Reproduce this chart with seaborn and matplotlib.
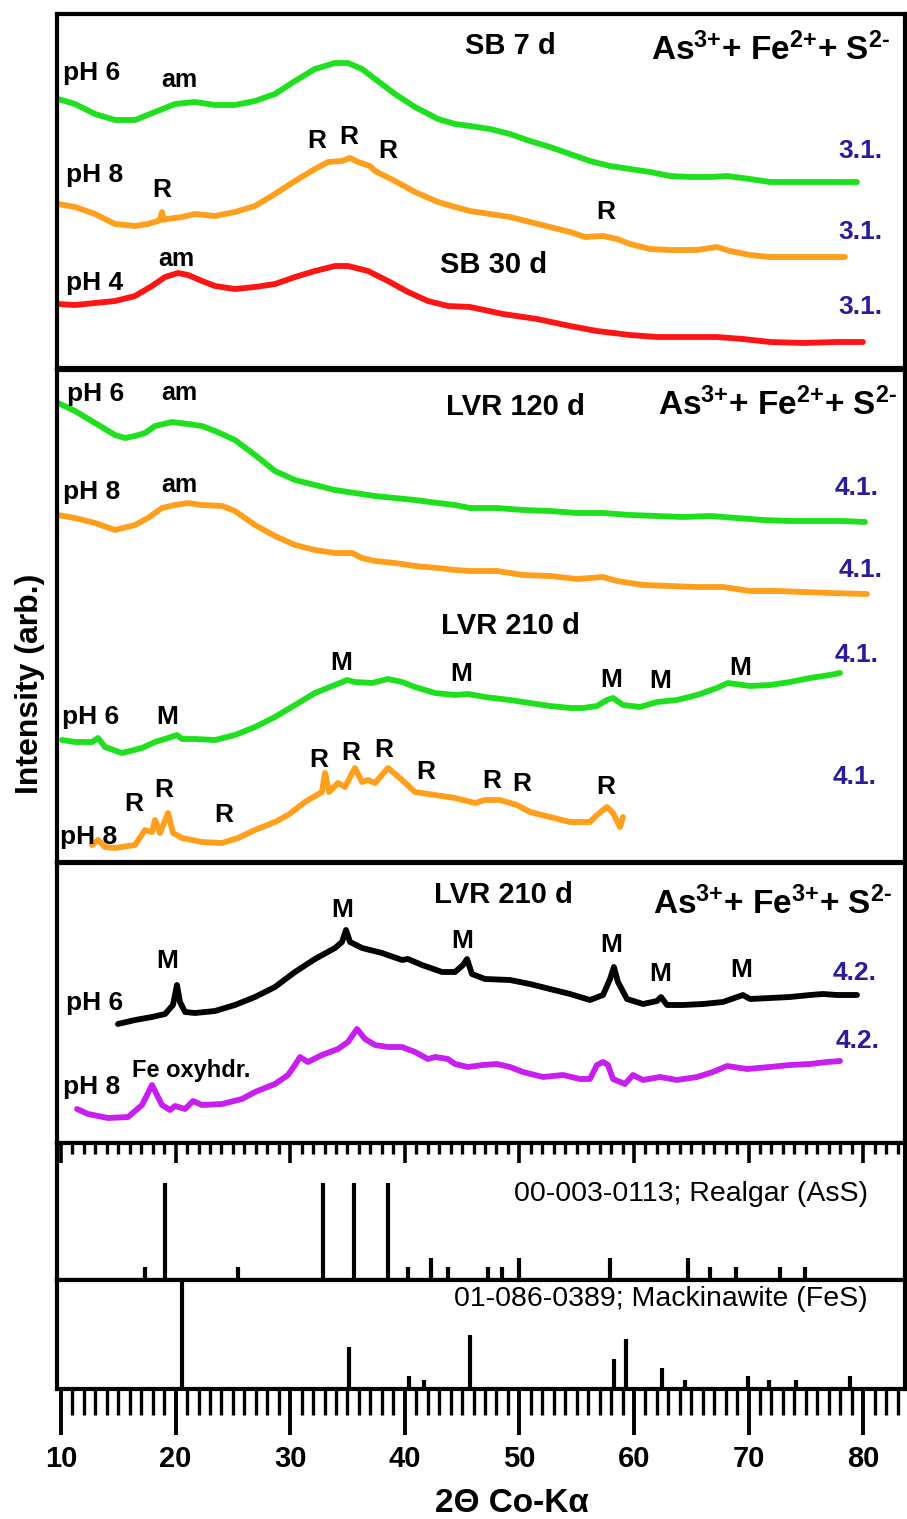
import matplotlib
matplotlib.use("Agg")
import matplotlib.pyplot as plt
from matplotlib.ticker import MultipleLocator
import seaborn as sns

# ---------------- XRD patterns (2-theta, Co K-alpha / intensity, arb.) ----------------
# SB series, As3+ + Fe2+ + S2-
sb7_ph6_2t = [9.74, 11.22, 12.97, 14.71, 16.46, 18.20, 19.95, 21.69, 23.44, 25.18, 26.93, 28.67,
              30.42, 32.16, 33.91, 35.04, 36.27, 37.40, 39.14, 40.89, 42.90, 44.38, 45.69, 47.43,
              49.18, 50.92, 52.67, 54.42, 56.16, 57.91, 59.65, 61.40, 63.14, 64.89, 66.63, 68.12,
              70.12, 71.87, 73.61, 75.36, 77.71, 79.46]
sb7_ph6_i = [269, 264, 254, 248, 248, 256, 264, 266, 263, 263, 267, 274,
             287, 299, 305, 305, 299, 289, 274, 261, 249, 244, 242, 239,
             234, 227, 221, 214, 207, 202, 199, 196, 192, 191, 191, 192,
             189, 186, 186, 186, 186, 186]

sb7_ph8_2t = [9.74, 11.22, 12.97, 14.71, 16.46, 17.59, 18.46, 18.64, 18.81, 18.99, 19.25, 20.56,
              21.69, 23.44, 25.18, 26.93, 28.67, 30.42, 32.16, 33.30, 34.52, 35.22, 35.92, 36.96,
              37.40, 39.14, 40.89, 42.90, 44.38, 45.69, 47.43, 49.18, 50.92, 52.67, 54.42, 55.72,
              57.30, 58.52, 59.65, 61.40, 63.14, 65.50, 67.24, 68.38, 70.12, 71.87, 73.61, 75.36,
              78.41]
sb7_ph8_i = [164, 161, 154, 144, 142, 144, 147, 148, 156, 148, 149, 151,
             154, 152, 156, 162, 174, 187, 199, 206, 207, 210, 206, 202,
             197, 187, 176, 166, 161, 157, 154, 151, 146, 141, 136, 131,
             132, 129, 124, 119, 118, 118, 121, 117, 113, 111, 111, 111,
             111]

sb30_ph4_2t = [9.74, 11.22, 12.97, 14.71, 16.46, 17.94, 19.08, 20.21, 21.08, 22.30, 23.44, 25.18,
               26.93, 28.67, 30.42, 32.16, 33.91, 35.04, 36.79, 38.53, 40.28, 42.02, 43.77, 45.69,
               48.57, 51.54, 54.42, 56.77, 59.65, 62.01, 64.89, 67.24, 69.51, 71.87, 74.75, 77.71,
               79.98]
sb30_ph4_i = [64, 63, 65, 67, 72, 82, 91, 95, 93, 87, 82, 79,
              81, 84, 91, 97, 102, 102, 97, 87, 76, 67, 62, 61,
              54, 49, 42, 37, 33, 31, 31, 31, 29, 26, 25, 26,
              26]

# LVR series, As3+ + Fe2+ + S2-
lvr120_ph6_2t = [9.74, 11.22, 12.97, 14.71, 15.58, 16.46, 17.33, 18.20, 19.69, 21.08, 22.30, 23.44,
                 25.18, 26.93, 28.67, 30.42, 32.16, 33.91, 35.65, 37.40, 39.14, 40.89, 42.90, 44.38,
                 45.69, 48.05, 50.31, 52.67, 55.03, 57.30, 59.65, 62.01, 64.28, 66.63, 68.99, 71.26,
                 73.61, 75.97, 78.24, 80.16]
lvr120_ph6_i = [459, 451, 439, 427, 424, 426, 429, 436, 440, 438, 436, 431,
                422, 407, 391, 382, 377, 372, 369, 366, 364, 362, 359, 357,
                354, 354, 352, 351, 349, 349, 347, 346, 345, 346, 344, 342,
                341, 341, 341, 340]

lvr120_ph8_2t = [9.74, 11.22, 12.97, 14.71, 16.46, 17.59, 18.81, 19.95, 21.08, 22.30, 24.05, 25.18,
                 26.93, 28.67, 30.42, 32.16, 33.91, 35.39, 36.27, 37.40, 39.14, 40.89, 42.90, 44.38,
                 45.69, 48.05, 50.31, 52.67, 55.03, 57.30, 58.52, 60.79, 63.14, 65.50, 67.77, 70.12,
                 72.48, 74.75, 77.10, 80.33]
lvr120_ph8_i = [347, 344, 339, 332, 337, 344, 354, 357, 359, 357, 356, 351,
                337, 326, 317, 312, 309, 309, 304, 301, 299, 296, 294, 292,
                291, 291, 287, 286, 283, 285, 281, 277, 276, 275, 275, 271,
                271, 270, 269, 268]

lvr210_ph6_2t = [10.09, 11.22, 12.71, 13.23, 13.84, 15.32, 17.07, 18.20, 19.34, 20.12, 20.56, 21.69,
                 23.44, 25.18, 26.93, 28.67, 30.42, 32.16, 33.91, 34.96, 35.65, 37.14, 38.53, 39.76,
                 40.89, 42.64, 44.38, 45.51, 47.00, 49.18, 50.92, 52.67, 54.42, 55.55, 56.77, 57.64,
                 58.17, 59.04, 60.52, 62.01, 63.75, 65.50, 67.24, 68.20, 70.12, 71.87, 73.61, 75.36,
                 77.10, 77.98]
lvr210_ph6_i = [122, 120, 120, 124, 115, 109, 114, 120, 124, 127, 123, 123,
                122, 127, 135, 145, 157, 169, 177, 182, 180, 179, 183, 180,
                175, 169, 167, 168, 165, 162, 159, 156, 154, 154, 156, 162,
                164, 157, 155, 160, 162, 167, 174, 179, 176, 177, 180, 184,
                187, 189]

lvr210_ph8_2t = [12.71, 13.23, 13.84, 14.71, 16.46, 17.33, 17.94, 18.20, 18.64, 19.34, 19.77, 20.56,
                 22.30, 24.05, 25.45, 26.93, 28.67, 29.81, 31.29, 32.77, 33.04, 33.39, 34.17, 34.78,
                 35.65, 36.27, 36.79, 37.40, 38.53, 39.76, 40.89, 42.64, 44.38, 46.13, 47.00, 48.31,
                 49.79, 50.92, 52.67, 54.42, 56.16, 56.77, 57.64, 58.17, 58.78, 59.04]
lvr210_ph8_i = [17, 22, 15, 14, 17, 32, 30, 42, 29, 49, 29, 24,
                20, 19, 24, 32, 40, 47, 60, 70, 89, 70, 79, 75,
                94, 80, 82, 79, 94, 82, 70, 67, 64, 59, 62, 62,
                57, 50, 45, 40, 40, 47, 55, 49, 35, 45]

# LVR series, As3+ + Fe3+ + S2-
fe3_ph6_2t = [14.97, 16.46, 17.94, 19.08, 19.77, 20.12, 20.38, 20.82, 21.69, 23.44, 25.18, 26.93,
              28.67, 30.42, 32.16, 33.91, 34.52, 34.87, 35.22, 36.27, 38.01, 39.76, 40.28, 41.50,
              43.25, 44.38, 45.08, 45.43, 45.86, 47.00, 49.18, 50.92, 52.67, 54.42, 56.16, 57.30,
              57.91, 58.25, 58.60, 59.39, 60.79, 62.01, 62.36, 62.88, 64.28, 66.02, 67.77, 69.51,
              70.12, 71.87, 73.61, 75.36, 76.49, 77.71, 79.46]
fe3_ph6_i = [119, 123, 126, 129, 138, 158, 141, 131, 130, 132, 138, 146,
             156, 171, 184, 195, 201, 213, 201, 195, 190, 183, 184, 178,
             171, 171, 178, 184, 169, 164, 163, 159, 154, 149, 143, 148,
             164, 176, 161, 144, 139, 142, 146, 138, 138, 139, 141, 148,
             144, 145, 146, 148, 149, 148, 148]

fe3_ph8_2t = [11.40, 12.36, 14.10, 15.85, 17.07, 17.94, 18.81, 19.51, 19.95, 20.82, 21.52, 22.30,
              24.05, 25.79, 26.93, 28.67, 29.81, 30.42, 30.86, 31.55, 32.77, 34.17, 35.04, 35.83,
              36.53, 37.40, 38.53, 39.76, 40.89, 42.02, 42.64, 43.77, 44.38, 45.51, 46.82, 48.05,
              49.18, 50.31, 52.06, 53.80, 55.29, 56.16, 56.77, 57.30, 57.73, 58.17, 59.21, 59.91,
              60.79, 62.27, 63.75, 65.50, 66.89, 68.12, 69.86, 71.87, 73.61, 75.36, 76.84, 77.98]
fe3_ph8_i = [34, 29, 25, 26, 38, 58, 38, 33, 37, 34, 42, 38,
             39, 44, 51, 59, 68, 78, 86, 81, 88, 94, 101, 114,
             104, 98, 96, 96, 91, 84, 86, 84, 79, 76, 78, 79,
             76, 71, 66, 68, 64, 64, 78, 81, 78, 64, 59, 68,
             63, 66, 63, 66, 71, 77, 74, 76, 78, 79, 81, 82]

# Reference stick patterns
realgar_2t = [17.3, 19.06, 25.47, 32.9, 35.57, 38.5, 40.25, 42.28, 43.8, 47.3, 48.5, 49.95,
              57.9, 64.7, 66.6, 68.9, 72.7, 74.9]
realgar_i = [13, 97, 13, 97, 97, 97, 13, 22, 13, 13, 13, 22,
             22, 22, 13, 13, 13, 13]
mack_2t = [20.57, 35.1, 40.36, 41.67, 45.66, 58.27, 59.28, 62.46, 64.48, 69.93, 71.8, 74.17, 78.87]
mack_i = [109, 42, 13, 9, 54, 30, 50, 21, 9, 13, 9, 9, 13]

x_ticks = [10, 20, 30, 40, 50, 60, 70, 80]

# ---------------- styling ----------------
sns.set_theme(style="white")
plt.rcParams["font.family"] = ["Liberation Sans", "DejaVu Sans"]
plt.rcParams["mathtext.fontset"] = "custom"
plt.rcParams["mathtext.rm"] = "Liberation Sans:bold"
plt.rcParams["mathtext.default"] = "rm"
plt.rcParams["text.color"] = "black"
plt.rcParams["xtick.color"] = "black"
plt.rcParams["xtick.labelcolor"] = "black"

GREEN = "#1fe01f"
ORANGE = "#ff9f1c"
RED = "#ff1414"
PURPLE = "#c81ff0"
BLACK = "#000000"
BLUE = "#2a1c9c"

W, H = 907, 1519
fig = plt.figure(figsize=(W / 100, H / 100), dpi=100)
X0, X1 = 57, 905
XLIM = (9.65, 83.65)


def panel(top_px, bottom_px):
    ax = fig.add_axes([X0 / W, 1 - bottom_px / H, (X1 - X0) / W, (bottom_px - top_px) / H])
    ax.set_xlim(*XLIM)
    ax.set_ylim(0, bottom_px - top_px)
    ax.set_xticks([])
    ax.set_yticks([])
    ax.set_facecolor("white")
    for sp in ax.spines.values():
        sp.set_visible(True)
        sp.set_color("black")
        sp.set_linewidth(3)
    return ax


def trace(ax, x, y, color):
    sns.lineplot(x=x, y=y, ax=ax, color=color, linewidth=4.2, sort=False,
                 estimator=None, legend=False, solid_capstyle="round", solid_joinstyle="round")


def label(ax, x, y, s, size=18, ha="center", color="black"):
    ax.text(x, y, s, fontsize=size, fontweight="bold", ha=ha, va="center", color=color)


ION2 = r"As$^{\text{3+}}$+ Fe$^{\text{2+}}$+ S$^{\text{2-}}$"
ION3 = r"As$^{\text{3+}}$+ Fe$^{\text{3+}}$+ S$^{\text{2-}}$"
PH = 19
TAG = 19

# ---- panel 1: SB ----
ax1 = panel(14, 368)
trace(ax1, sb7_ph6_2t, sb7_ph6_i, GREEN)
trace(ax1, sb7_ph8_2t, sb7_ph8_i, ORANGE)
trace(ax1, sb30_ph4_2t, sb30_ph4_i, RED)
label(ax1, 10.2, 295, "pH 6", size=PH, ha="left")
label(ax1, 20.3, 288, "am")
label(ax1, 10.4, 193, "pH 8", size=PH, ha="left")
label(ax1, 18.81, 178, "R", size=TAG)
label(ax1, 32.34, 227, "R", size=TAG)
label(ax1, 35.13, 231, "R", size=TAG)
label(ax1, 38.53, 217, "R", size=TAG)
label(ax1, 57.56, 156, "R", size=TAG)
label(ax1, 20.03, 109, "am")
label(ax1, 10.4, 85, "pH 4", size=PH, ha="left")
label(ax1, 49.18, 322, "SB 7 d", size=21)
label(ax1, 47.78, 103, "SB 30 d", size=21)
label(ax1, 82.34, 318, ION2, size=24, ha="right")
for yy in (217, 136, 61):
    label(ax1, 79.72, yy, "3.1.", size=19, color=BLUE)

# ---- panel 2: LVR, Fe2+ ----
ax2 = panel(370, 862)
trace(ax2, lvr120_ph6_2t, lvr120_ph6_i, GREEN)
trace(ax2, lvr120_ph8_2t, lvr120_ph8_i, ORANGE)
trace(ax2, lvr210_ph6_2t, lvr210_ph6_i, GREEN)
trace(ax2, lvr210_ph8_2t, lvr210_ph8_i, ORANGE)
label(ax2, 10.5, 468, "pH 6", size=PH, ha="left")
label(ax2, 20.3, 469, "am")
label(ax2, 49.62, 455, "LVR 120 d", size=21)
label(ax2, 82.95, 457, ION2, size=24, ha="right")
label(ax2, 79.46, 374, "4.1.", size=19, color=BLUE)
label(ax2, 79.81, 292, "4.1.", size=19, color=BLUE)
label(ax2, 10.2, 370, "pH 8", size=PH, ha="left")
label(ax2, 20.3, 377, "am")
label(ax2, 49.18, 236, "LVR 210 d", size=21)
for mx, my in [(34.43, 199), (44.9, 188), (19.25, 145), (57.99, 182), (62.27, 181), (69.25, 194)]:
    label(ax2, mx, my, "M", size=TAG)
label(ax2, 10.05, 145, "pH 6", size=PH, ha="left")
label(ax2, 79.46, 207, "4.1.", size=19, color=BLUE)
label(ax2, 79.28, 85, "4.1.", size=19, color=BLUE)
for rx, ry in [(16.37, 58), (18.99, 72), (24.22, 47), (32.51, 102), (35.31, 109), (38.18, 112),
               (41.85, 90), (47.61, 81), (50.23, 78), (57.56, 75)]:
    label(ax2, rx, ry, "R", size=TAG)
label(ax2, 9.95, 25, "pH 8", size=PH, ha="left")

# ---- panel 3: LVR, Fe3+ ----
ax3 = panel(863, 1143)
trace(ax3, fe3_ph6_2t, fe3_ph6_i, BLACK)
trace(ax3, fe3_ph8_2t, fe3_ph8_i, PURPLE)
label(ax3, 48.57, 248, "LVR 210 d", size=21)
label(ax3, 82.51, 239, ION3, size=24, ha="right")
for mx, my in [(34.52, 233), (19.25, 182), (44.99, 202), (57.99, 198), (62.27, 169), (69.34, 173)]:
    label(ax3, mx, my, "M", size=TAG)
label(ax3, 79.28, 170, "4.2.", size=19, color=BLUE)
label(ax3, 79.55, 102, "4.2.", size=19, color=BLUE)
label(ax3, 10.4, 140, "pH 6", size=PH, ha="left")
label(ax3, 10.2, 56, "pH 8", size=PH, ha="left")
label(ax3, 21.34, 73, "Fe oxyhdr.", size=17)

# ---- panel 4: realgar reference ----
ax4 = panel(1143, 1280)
ax4.vlines(realgar_2t, 0, realgar_i, colors="black", linewidth=3)
ax4.text(80.42, 86, "00-003-0113; Realgar (AsS)", fontsize=20.5, ha="right", va="center",
         color="black")
ax4.xaxis.set_major_locator(MultipleLocator(10))
ax4.xaxis.set_minor_locator(MultipleLocator(1))
ax4.tick_params(axis="x", which="both", top=True, bottom=False, labeltop=False,
                labelbottom=False, direction="in", color="black")
ax4.tick_params(axis="x", which="major", length=14.5, width=2.6)
ax4.tick_params(axis="x", which="minor", length=8, width=2.4)

# ---- panel 5: mackinawite reference + 2-theta axis ----
ax5 = panel(1280, 1389)
ax5.vlines(mack_2t, 0, mack_i, colors="black", linewidth=3)
ax5.text(80.42, 90, "01-086-0389; Mackinawite (FeS)", fontsize=20.5, ha="right", va="center",
         color="black")
ax5.set_xticks(x_ticks)
ax5.xaxis.set_minor_locator(MultipleLocator(1))
ax5.tick_params(axis="x", which="both", bottom=True, top=False, direction="out", color="black")
ax5.tick_params(axis="x", which="major", length=33, width=2.8, pad=7, labelsize=21)
ax5.tick_params(axis="x", which="minor", length=19, width=2.4)
for t in ax5.get_xticklabels():
    t.set_fontweight("bold")

fig.text(512 / W, 1 - 1503 / H, "2\u0398 Co-K\u03b1", fontsize=24, fontweight="bold",
         ha="center", va="center")
fig.text(30 / W, 1 - 684 / H, "Intensity (arb.)", fontsize=23, fontweight="bold",
         ha="center", va="center", rotation=90)

fig.savefig("out.png", dpi=100, facecolor="white")
